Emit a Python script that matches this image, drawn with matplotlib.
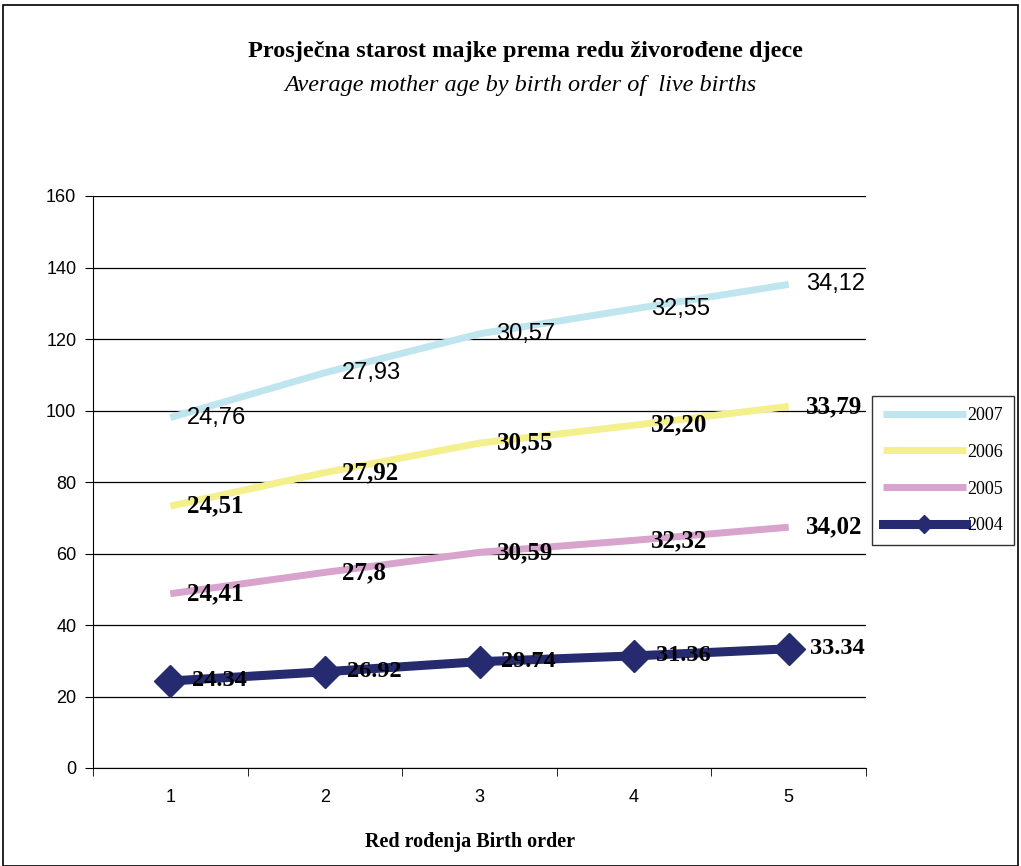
import matplotlib
matplotlib.use("Agg")
import matplotlib.pyplot as plt
from matplotlib.patches import Rectangle
import numpy as np

categories = [1, 2, 3, 4, 5]
v2004 = [24.34, 26.92, 29.74, 31.36, 33.34]
v2005 = [24.41, 27.8, 30.59, 32.32, 34.02]
v2006 = [24.51, 27.92, 30.55, 32.20, 33.79]
v2007 = [24.76, 27.93, 30.57, 32.55, 34.12]
lab2004 = ["24.34", "26.92", "29.74", "31.36", "33.34"]
lab2005 = ["24,41", "27,8", "30,59", "32,32", "34,02"]
lab2006 = ["24,51", "27,92", "30,55", "32,20", "33,79"]
lab2007 = ["24,76", "27,93", "30,57", "32,55", "34,12"]

x = np.array(categories)
s2004 = np.array(v2004)
s2005 = s2004 + np.array(v2005)
s2006 = s2005 + np.array(v2006)
s2007 = s2006 + np.array(v2007)

fig = plt.figure(figsize=(10.21, 8.66), dpi=100)
ax = fig.add_axes([93/1021, 1-768/866, (866-93)/1021, (768-196)/866])

serif = "Liberation Serif"
sans = "Liberation Sans"

ax.set_xlim(0.5, 5.5)
ax.set_ylim(0, 160)
ax.set_yticks(range(0, 161, 20))
ax.grid(axis="y", color="black", linewidth=0.9)
ax.set_axisbelow(True)
ax.set_xticks(categories)
ax.set_xticks(np.arange(0.5, 5.6, 1), minor=True)
ax.tick_params(axis="x", which="major", length=0, pad=15, labelsize=13)
ax.tick_params(axis="x", which="minor", length=6, direction="out")
ax.tick_params(axis="y", length=6, direction="out", labelsize=13, pad=6)
for lbl in ax.get_xticklabels() + ax.get_yticklabels():
    lbl.set_fontfamily(sans)
ax.spines["top"].set_visible(False)
ax.spines["right"].set_visible(False)

l7, = ax.plot(x, s2007, color="#bfe6ef", lw=5, solid_capstyle="butt", label="2007", zorder=3)
l6, = ax.plot(x, s2006, color="#f4f08e", lw=5, solid_capstyle="butt", label="2006", zorder=3)
l5, = ax.plot(x, s2005, color="#d8a3cc", lw=5, solid_capstyle="butt", label="2005", zorder=3)
l4, = ax.plot(x, s2004, color="#262a6e", lw=6.5, marker="D", markersize=16, label="2004", zorder=4)

off = 0.11
fs = 18
for xi, yi, t in zip(x, s2007, lab2007):
    ax.text(xi + off, yi, t, fontsize=17, fontfamily=sans, va="center", ha="left", zorder=5)
for xi, yi, t in zip(x, s2006, lab2006):
    ax.text(xi + off, yi, t, fontsize=fs, fontfamily=serif, fontweight="bold", va="center", ha="left", zorder=5)
for xi, yi, t in zip(x, s2005, lab2005):
    ax.text(xi + off, yi, t, fontsize=fs, fontfamily=serif, fontweight="bold", va="center", ha="left", zorder=5)
for xi, yi, t in zip(x, s2004, lab2004):
    ax.text(xi + 0.14, yi, t, fontsize=17.5, fontfamily=serif, fontweight="bold", va="center", ha="left", zorder=5)

leg = fig.legend(handles=[l7, l6, l5, l4], loc="upper left",
                 bbox_to_anchor=(872/1021, 1-396/866),
                 prop={"family": serif, "size": 13}, frameon=True, fancybox=False,
                 edgecolor="black", handlelength=4.6, labelspacing=1.1,
                 borderpad=0.6, handletextpad=0.1, borderaxespad=0, markerscale=0.6)
leg.get_frame().set_linewidth(1.0)

fig.text(525/1021, 1-52/866, "Prosječna starost majke prema redu živorođene djece",
         ha="center", va="center", fontsize=17.5, fontfamily=serif, fontweight="bold")
fig.text(520/1021, 1-86/866, "Average mother age by birth order of  live births",
         ha="center", va="center", fontsize=17.5, fontfamily=serif, style="italic")
fig.text(470/1021, 1-842/866, "Red rođenja Birth order",
         ha="center", va="center", fontsize=14.5, fontfamily=serif, fontweight="bold")

fig.patches.append(Rectangle((3/1021, 0), 1-6/1021, 1-5/866, transform=fig.transFigure,
                             fill=False, edgecolor="black", linewidth=1.2))

fig.savefig("out.png", dpi=100)
